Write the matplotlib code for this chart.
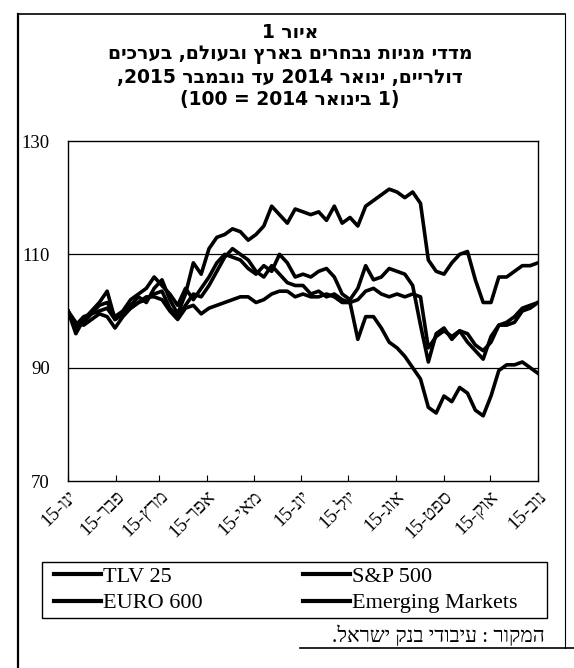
import re
import numpy as np
import pandas as pd
import matplotlib
matplotlib.use('Agg')
import matplotlib.pyplot as plt
from matplotlib.lines import Line2D
from matplotlib.patches import Rectangle

plt.rcParams['font.family'] = ['Liberation Serif', 'DejaVu Sans']

# index values, 1 Jan = 100, sampled about every 5 days from 1 Jan to 1 Nov 2015
tlv25 = [100, 96, 98.5, 100, 101.5, 103.5, 98.5, 99.5, 101, 102.5, 101.5, 104, 105.5,
         102, 99.5, 103, 108.5, 106.5, 111, 113, 113.5, 114.5, 114, 112.5, 113.5, 115,
         118.5, 117, 115.5, 118, 117.5, 117, 117.5, 116, 118.5, 115.5, 116.5, 115, 118.5,
         119.5, 120.5, 121.5, 121, 120, 121, 119, 109, 107, 106.5, 108.5, 110, 110.5,
         105.5, 101.5, 101.5, 106, 106, 107, 108, 108, 108.5]
sp500 = [100, 98, 97.5, 98.5, 99.5, 99, 97, 99, 100.5, 101.5, 102.5, 102.5, 102, 100,
         98.5, 100.5, 101, 99.5, 100.5, 101, 101.5, 102, 102.5, 102.5, 101.5, 102, 103,
         103.5, 103.5, 102.5, 103, 102.5, 102.5, 103, 102.5, 101.5, 101.5, 102, 103.5,
         104, 103, 102.5, 103, 102.5, 103, 102.5, 93.5, 95.5, 96.5, 95.5, 96.5, 96, 94,
         93, 94.5, 97.5, 98, 99, 100.5, 101, 101.5]
euro600 = [100, 97, 98, 99.5, 101, 101.5, 99, 100, 102, 103, 104, 106, 104.5, 103, 101,
           104, 102, 104, 106, 108.5, 110, 109.5, 109, 107.5, 106.5, 108, 107, 110, 108.5,
           106, 106.5, 106, 107, 107.5, 106, 103, 102, 104, 108, 105.5, 106, 107.5, 107,
           106.5, 104.5, 97.5, 91, 96, 97, 95, 96.5, 94.5, 93, 91.5, 95.5, 97.5, 97.5, 98,
           100, 100.5, 101.5]
emerging = [100, 97.5, 99, 99.5, 100, 100.5, 98.5, 99.5, 100.5, 101.5, 102, 103, 103.5,
            100.5, 99, 101, 103, 102.5, 104.5, 107, 109.5, 111, 110, 109, 107, 106, 108,
            106.5, 105, 104.5, 104.5, 103, 103.5, 102.5, 103, 102, 101.5, 95, 99, 99, 97,
            94.5, 93.5, 92, 90, 88, 83, 82, 85, 84, 86.5, 85.5, 82.5, 81.5, 85, 89.5, 90.5,
            90.5, 91, 90, 89]
dates = pd.date_range('2015-01-01', '2015-11-01', periods=len(tlv25))

# legend order: column 1 = TLV 25, EURO 600 / column 2 = S&P 500, Emerging Markets
names = ['TLV 25', 'EURO 600', 'S&P 500', 'Emerging Markets']
months = ['ינו', 'פבר', 'מרץ', 'אפר', 'מאי', 'יונ', 'יול', 'אוג', 'ספט', 'אוק', 'נוב']
tick_dates = pd.date_range('2015-01-01', '2015-11-01', freq='MS')

title_lines = ['איור 1',
               'מדדי מניות נבחרים בארץ ובעולם, בערכים',
               'דולריים, ינואר 2014 עד נובמבר 2015,',
               '(1 בינואר 2014 = 100)']
source = 'המקור : עיבודי בנק ישראל.'


def rtl(s):
    # matplotlib has no bidi layout: put hebrew text in visual order
    v = s[::-1]
    v = re.sub(r'\d+', lambda m: m.group()[::-1], v)
    return v.translate(str.maketrans('()', ')('))


W, H = 574, 668
fig = plt.figure(figsize=(W / 100, H / 100), dpi=100)


def fx(px):
    return px / W


def fy(py):
    return 1 - py / H


def fline(x0, y0, x1, y1, lw):
    fig.add_artist(Line2D([fx(x0), fx(x1)], [fy(y0), fy(y1)], color='black', lw=lw,
                          transform=fig.transFigure))


# outer frame of the scanned figure box
fline(18, 14, 18, 668, 1.6)
fline(18, 14, 565, 14, 1.2)
fline(565, 14, 565, 648, 0.8)
fline(300, 648, 574, 648, 1.2)

for line, y in zip(title_lines, [33, 55, 77, 100]):
    fig.text(fx(290), fy(y), rtl(line), ha='center', va='center', fontsize=13.5,
             fontweight='bold', family=['DejaVu Sans'])

ax = fig.add_axes([fx(68), fy(481), fx(538) - fx(68), fy(141) - fy(481)])
for vals in [tlv25, sp500, euro600, emerging]:
    ax.plot(dates, vals, color='black', lw=2.6, solid_joinstyle='round')

ax.set_ylim(70, 130)
ax.set_yticks([70, 90, 110, 130])
ax.set_xlim(pd.Timestamp('2015-01-01'), pd.Timestamp('2015-11-01'))
for v in (90, 110):
    ax.axhline(v, color='black', lw=0.9)
for s in ax.spines.values():
    s.set_linewidth(1.0)

ax.set_xticks(tick_dates)
ax.set_xticklabels([rtl(m + '-15') for m in months], rotation=45, ha='right',
                   rotation_mode='anchor', fontsize=14)
ax.tick_params(axis='x', direction='in', length=4, pad=5)
ax.tick_params(axis='y', length=0, pad=13, labelsize=13.5)

# legend box drawn separately (wide side margins, tight top/bottom)
fig.add_artist(Rectangle((fx(42), fy(618)), fx(547) - fx(42), fy(562) - fy(618),
                         fill=False, edgecolor='black', lw=1.0, transform=fig.transFigure))
handles = [Line2D([], [], color='black', lw=3) for _ in names]
leg = fig.legend(handles, names, ncol=2, loc='center left',
                 bbox_to_anchor=(fx(50), fy(590)),
                 frameon=False, fontsize=16, handlelength=2.1, handletextpad=0.1,
                 borderaxespad=0, labelspacing=0.25, columnspacing=4.5, borderpad=0.2)

fig.text(fx(545), fy(636), rtl(source), ha='right', va='center', fontsize=15)

fig.savefig('out.png', dpi=100)
